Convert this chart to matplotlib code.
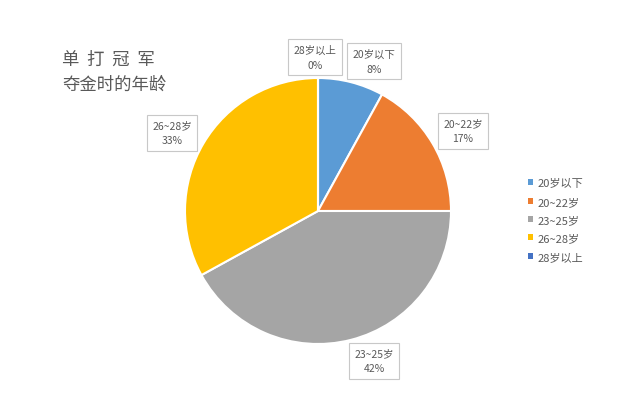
import matplotlib.pyplot as plt
from matplotlib.patches import Patch

plt.rcParams['font.family'] = ['Noto Sans CJK SC', 'DejaVu Sans']

categories = ['20岁以下', '20~22岁', '23~25岁', '26~28岁', '28岁以上']
shares = [8, 17, 42, 33, 0]
colors = ['#5B9BD5', '#ED7D31', '#A5A5A5', '#FFC000', '#4472C4']
# label box centres in pixels (x, y from top)
label_pos = [(374, 62), (463, 132), (374, 362), (172, 134), (315, 58)]

W, H = 640, 406
fig = plt.figure(figsize=(6.4, 4.06), dpi=100)
cx, cy, r = 318, 212, 133
ax = fig.add_axes([(cx - r) / W, (H - cy - r) / H, 2 * r / W, 2 * r / H])
wedges, _ = ax.pie(shares, colors=colors, startangle=90, counterclock=False,
                   radius=1, wedgeprops=dict(edgecolor='white', linewidth=1.5))
ax.set_xlim(-1, 1)
ax.set_ylim(-1, 1)
ax.axis('off')

for name, v, (px, py) in zip(categories, shares, label_pos):
    fig.text(px / W, 1 - py / H, '%s\n%d%%' % (name, v), ha='center', va='center',
             fontsize=7.5, color='#595959', linespacing=1.6,
             bbox=dict(boxstyle='square,pad=0.5', fc='white', ec='#c8c8c8', lw=0.8))

fig.text(62 / W, 1 - 60 / H, '单  打  冠  军', fontsize=12.5, color='#595959', va='center')
fig.text(62 / W, 1 - 85 / H, '夺金时的年龄', fontsize=12.5, color='#595959', va='center')

handles = [Patch(facecolor=c, edgecolor='none') for c in colors]
fig.legend(handles, categories, loc='center left', bbox_to_anchor=(518 / W, 1 - 221 / H),
           frameon=False, fontsize=8, labelcolor='#595959', handlelength=0.45,
           handleheight=0.45, handletextpad=0.4, labelspacing=0.75)

fig.savefig('out.png', dpi=100, facecolor='white')
